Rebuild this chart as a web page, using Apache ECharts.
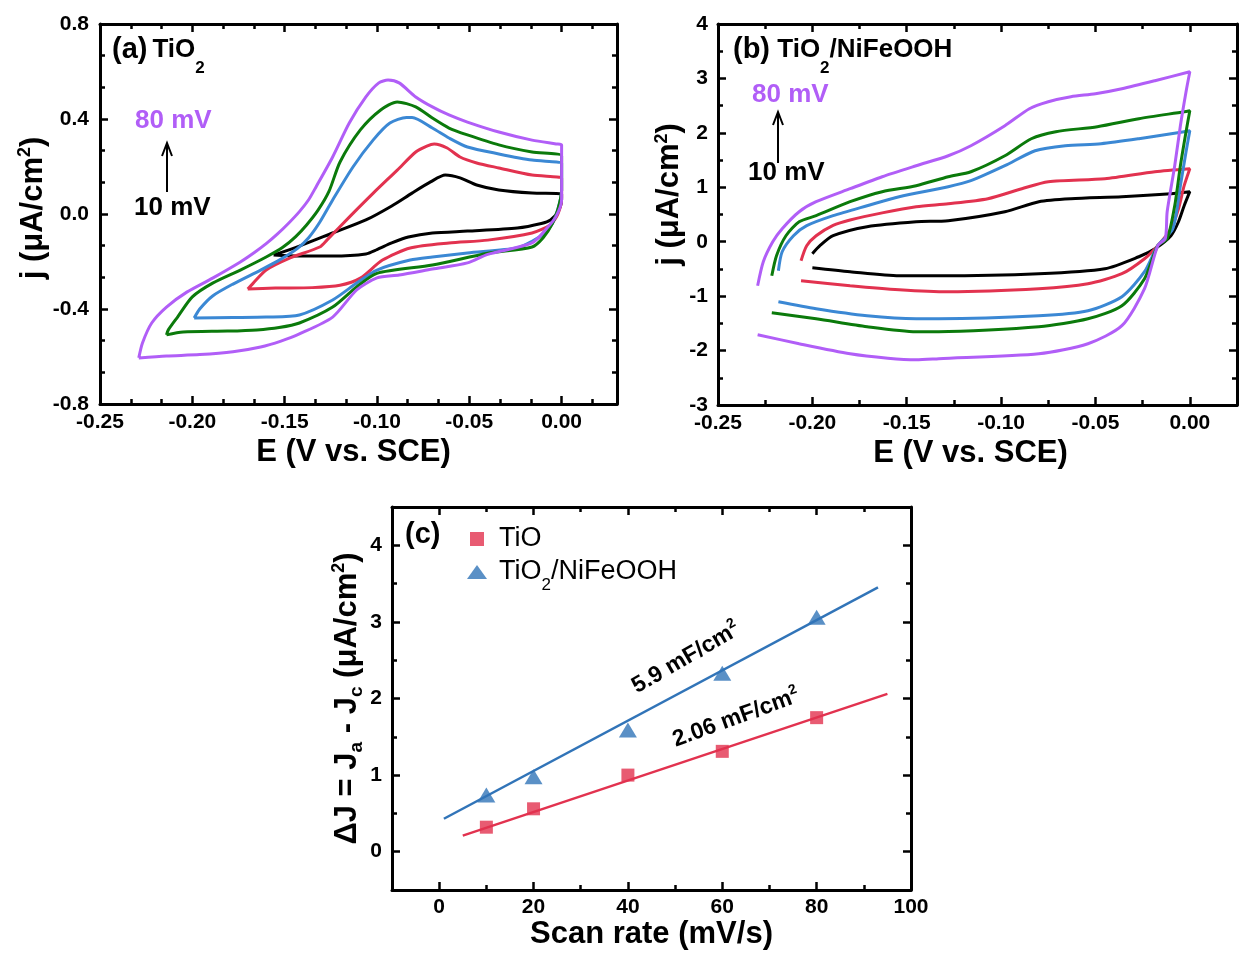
<!DOCTYPE html>
<html>
<head>
<meta charset="utf-8">
<script src="https://cdn.jsdelivr.net/npm/echarts@6/dist/echarts.min.js"></script>
<style>
  html, body { margin: 0; padding: 0; background: #fff; }
  #chart { width: 1244px; height: 953px; }
</style>
</head>
<body>
<div id="chart"></div>
<script>
// ---------- (a) TiO2: cyclic voltammograms, [E (V vs. SCE), j (uA/cm2)] ----------
const cvA_10 = [[-0.156,-0.173],[-0.142,-0.135],[-0.124,-0.080],[-0.106,-0.025],[-0.092,0.034],[-0.081,0.088],[-0.071,0.135],[-0.063,0.164],[-0.055,0.152],[-0.046,0.122],[-0.034,0.101],[-0.016,0.088],[0.000,0.084],
  [0.000,0.060],[-0.002,0.010],[-0.006,-0.025],[-0.011,-0.040],[-0.024,-0.059],[-0.051,-0.072],[-0.070,-0.080],[-0.083,-0.097],[-0.092,-0.122],[-0.100,-0.150],[-0.106,-0.168],[-0.124,-0.177],[-0.142,-0.177],[-0.156,-0.173]];
const cvA_20 = [[-0.170,-0.316],[-0.167,-0.291],[-0.160,-0.236],[-0.147,-0.185],[-0.131,-0.139],[-0.127,-0.109],[-0.115,-0.013],[-0.102,0.088],[-0.089,0.185],[-0.079,0.261],[-0.073,0.286],[-0.069,0.295],[-0.062,0.278],[-0.055,0.240],[-0.046,0.215],[-0.034,0.194],[-0.016,0.164],[0.000,0.152],
  [0.000,0.140],[0.000,0.070],[-0.002,0.000],[-0.006,-0.045],[-0.016,-0.080],[-0.040,-0.110],[-0.061,-0.122],[-0.082,-0.143],[-0.097,-0.194],[-0.109,-0.270],[-0.120,-0.300],[-0.135,-0.310],[-0.155,-0.312],[-0.170,-0.316]];
const cvA_40 = [[-0.199,-0.438],[-0.196,-0.400],[-0.189,-0.345],[-0.178,-0.295],[-0.163,-0.236],[-0.152,-0.190],[-0.143,-0.145],[-0.137,-0.100],[-0.131,-0.035],[-0.124,0.059],[-0.113,0.198],[-0.102,0.312],[-0.093,0.383],[-0.084,0.406],[-0.081,0.406],[-0.070,0.362],[-0.061,0.320],[-0.051,0.282],[-0.034,0.253],[-0.016,0.227],[0.000,0.215],
  [0.000,0.200],[0.000,0.100],[-0.002,0.020],[-0.005,-0.040],[-0.009,-0.080],[-0.016,-0.115],[-0.024,-0.143],[-0.051,-0.164],[-0.070,-0.181],[-0.082,-0.194],[-0.100,-0.236],[-0.111,-0.291],[-0.124,-0.362],[-0.142,-0.425],[-0.160,-0.434],[-0.178,-0.436],[-0.199,-0.438]];
const cvA_60 = [[-0.214,-0.509],[-0.213,-0.488],[-0.208,-0.434],[-0.200,-0.349],[-0.189,-0.291],[-0.174,-0.236],[-0.160,-0.181],[-0.151,-0.140],[-0.144,-0.095],[-0.138,-0.045],[-0.132,0.015],[-0.126,0.095],[-0.120,0.219],[-0.109,0.354],[-0.098,0.438],[-0.089,0.472],[-0.079,0.451],[-0.070,0.404],[-0.061,0.362],[-0.051,0.333],[-0.034,0.291],[-0.016,0.261],[0.000,0.245],
  [0.000,0.200],[0.000,0.100],[-0.002,0.020],[-0.005,-0.040],[-0.010,-0.100],[-0.016,-0.139],[-0.040,-0.165],[-0.070,-0.215],[-0.100,-0.250],[-0.111,-0.307],[-0.124,-0.392],[-0.142,-0.459],[-0.153,-0.478],[-0.165,-0.488],[-0.181,-0.493],[-0.205,-0.497],[-0.214,-0.509]];
const cvA_80 = [[-0.229,-0.606],[-0.227,-0.543],[-0.222,-0.459],[-0.214,-0.392],[-0.203,-0.329],[-0.189,-0.270],[-0.174,-0.202],[-0.166,-0.160],[-0.160,-0.125],[-0.154,-0.085],[-0.148,-0.040],[-0.142,0.010],[-0.137,0.060],[-0.133,0.114],[-0.124,0.240],[-0.115,0.383],[-0.106,0.493],[-0.099,0.552],[-0.094,0.564],[-0.088,0.552],[-0.079,0.493],[-0.070,0.451],[-0.061,0.417],[-0.051,0.387],[-0.034,0.345],[-0.016,0.311],[-0.003,0.295],[0.000,0.291],
  [0.000,0.200],[0.000,0.060],[-0.003,-0.010],[-0.008,-0.060],[-0.016,-0.122],[-0.040,-0.170],[-0.051,-0.206],[-0.070,-0.232],[-0.088,-0.257],[-0.100,-0.269],[-0.111,-0.320],[-0.124,-0.434],[-0.142,-0.505],[-0.152,-0.535],[-0.163,-0.560],[-0.178,-0.580],[-0.196,-0.592],[-0.214,-0.598],[-0.229,-0.606]];

// ---------- (b) TiO2/NiFeOOH: cyclic voltammograms ----------
const cvB_10 = [[-0.200,-0.220],[-0.196,-0.073],[-0.189,0.110],[-0.171,0.276],[-0.145,0.367],[-0.128,0.386],[-0.098,0.551],[-0.080,0.735],[-0.063,0.790],[-0.036,0.827],[-0.010,0.882],[0.000,0.919],
  [-0.003,0.661],[-0.006,0.367],[-0.010,0.110],[-0.0185,-0.129],[-0.027,-0.276],[-0.045,-0.496],[-0.080,-0.588],[-0.133,-0.625],[-0.154,-0.625],[-0.180,-0.551],[-0.200,-0.478]];
const cvB_20 = [[-0.206,-0.349],[-0.203,-0.073],[-0.198,0.110],[-0.189,0.300],[-0.180,0.400],[-0.163,0.530],[-0.145,0.643],[-0.128,0.698],[-0.107,0.790],[-0.089,0.974],[-0.075,1.102],[-0.045,1.157],[-0.0185,1.286],[0.000,1.341],
  [-0.003,1.029],[-0.006,0.606],[-0.010,0.239],[-0.017,-0.073],[-0.024,-0.312],[-0.036,-0.588],[-0.054,-0.772],[-0.080,-0.863],[-0.128,-0.919],[-0.154,-0.882],[-0.180,-0.808],[-0.206,-0.717]];
const cvB_40 = [[-0.218,-0.533],[-0.216,-0.184],[-0.210,0.110],[-0.203,0.294],[-0.189,0.478],[-0.171,0.661],[-0.154,0.827],[-0.128,1.010],[-0.116,1.121],[-0.098,1.396],[-0.082,1.672],[-0.066,1.764],[-0.047,1.800],[-0.027,1.892],[-0.003,2.021],[0.000,2.039],
  [-0.002,1.653],[-0.005,1.029],[-0.009,0.239],[-0.017,-0.073],[-0.024,-0.551],[-0.036,-1.010],[-0.054,-1.268],[-0.080,-1.360],[-0.133,-1.415],[-0.145,-1.415],[-0.171,-1.360],[-0.198,-1.231],[-0.218,-1.102]];
const cvB_60 = [[-0.2215,-0.625],[-0.219,-0.257],[-0.214,0.110],[-0.207,0.367],[-0.198,0.478],[-0.180,0.735],[-0.163,0.919],[-0.145,1.029],[-0.128,1.194],[-0.116,1.286],[-0.098,1.580],[-0.084,1.892],[-0.071,2.021],[-0.049,2.113],[-0.027,2.260],[-0.003,2.388],[0.000,2.407],
  [-0.002,2.021],[-0.005,1.396],[-0.008,0.661],[-0.012,0.055],[-0.017,-0.073],[-0.024,-0.680],[-0.036,-1.176],[-0.054,-1.415],[-0.080,-1.562],[-0.133,-1.654],[-0.145,-1.654],[-0.171,-1.562],[-0.198,-1.415],[-0.2215,-1.304]];
const cvB_80 = [[-0.229,-0.808],[-0.226,-0.367],[-0.221,0.000],[-0.216,0.239],[-0.207,0.551],[-0.198,0.735],[-0.180,0.974],[-0.163,1.194],[-0.145,1.396],[-0.128,1.580],[-0.116,1.764],[-0.098,2.131],[-0.085,2.444],[-0.075,2.572],[-0.063,2.664],[-0.050,2.719],[-0.036,2.811],[-0.0185,2.958],[0.000,3.123],
  [-0.002,2.756],[-0.005,2.131],[-0.008,1.396],[-0.012,0.551],[-0.013,0.055],[-0.017,-0.073],[-0.024,-0.863],[-0.036,-1.543],[-0.054,-1.874],[-0.080,-2.058],[-0.133,-2.150],[-0.145,-2.170],[-0.160,-2.140],[-0.180,-2.058],[-0.207,-1.874],[-0.229,-1.709]];

// ---------- (c) double-layer charging: Delta J vs scan rate ----------
const scanRates = [10, 20, 40, 60, 80];
const dJ_TiO = [0.32, 0.56, 1.00, 1.31, 1.75];
const dJ_NiFe = [0.74, 0.98, 1.59, 2.33, 3.06];
const fit_TiO = [[5, 0.21], [95, 2.06]];
const fit_NiFe = [[1, 0.43], [93, 3.45]];

// ---------- tick labels ----------
const ticksA_x = [-0.25, -0.20, -0.15, -0.10, -0.05, 0.00];
const ticksA_y = [-0.8, -0.4, 0.0, 0.4, 0.8];
const ticksB_x = [-0.25, -0.20, -0.15, -0.10, -0.05, 0.00];
const ticksB_y = [-3, -2, -1, 0, 1, 2, 3, 4];
const ticksC_x = [0, 20, 40, 60, 80, 100];
const ticksC_y = [0, 1, 2, 3, 4];

const FONT = '"Liberation Sans", Arial, sans-serif';
const COLORS = { k: '#000000', r: '#e2324f', b: '#3b88d4', g: '#0b7a0b', p: '#b15ef7' };
const FIT_BLUE = '#3174b8';

// minor ticks: split every major interval into `parts`, extending past the ends while inside [min, max]
function minorTicks(majors, parts, min, max) {
  const step = (majors[1] - majors[0]) / parts;
  const out = [];
  for (let v = majors[0] - step; v > min + 1e-9; v -= step) out.push(v);
  for (let i = 0; i < majors.length - 1; i++)
    for (let k = 1; k < parts; k++) out.push(majors[i] + k * step);
  for (let v = majors[majors.length - 1] + step; v < max - 1e-9; v += step) out.push(v);
  return out;
}

// four axes per dimension: labelled major side, minor side, mirrored major, mirrored minor
function axisSet(dim, gridIndex, spec) {
  const sides = dim === 'x' ? ['bottom', 'top'] : ['left', 'right'];
  const minors = minorTicks(spec.majors, spec.parts, spec.min, spec.max);
  const list = [];
  sides.forEach((pos, s) => {
    [true, false].forEach(isMajor => {
      const main = s === 0 && isMajor;
      list.push({
        type: 'value', gridIndex, position: pos, min: spec.min, max: spec.max,
        name: main ? spec.name : '',
        nameLocation: 'middle', nameGap: spec.nameGap,
        nameTextStyle: main ? Object.assign({
          fontFamily: FONT, fontSize: spec.nameSize || 31, fontWeight: 'bold', color: '#000'
        }, spec.nameStyle || {}) : undefined,
        axisLine: { show: isMajor, onZero: false, lineStyle: { color: '#000', width: 3 } },
        axisTick: { show: true, inside: true, length: isMajor ? 8 : 5,
          customValues: isMajor ? spec.majors : minors,
          lineStyle: { color: '#000', width: 2.5 } },
        axisLabel: { show: main, customValues: spec.majors, formatter: spec.fmt,
          fontFamily: FONT, fontSize: 21, fontWeight: 'bold', color: '#000', margin: spec.margin },
        splitLine: { show: false }
      });
    });
  });
  return list;
}

const supRich = { sup: { fontFamily: FONT, fontSize: 18, fontWeight: 'bold', color: '#000', padding: [0, 0, 16, 0] } };

const xAxes = [].concat(
  axisSet('x', 0, { min: -0.25, max: 0.03, majors: ticksA_x, parts: 3, fmt: v => v.toFixed(2), margin: 8,
    name: 'E (V vs. SCE)', nameGap: 33, nameStyle: { padding: [0, 10, 0, 0] } }),
  axisSet('x', 1, { min: -0.25, max: 0.025, majors: ticksB_x, parts: 2, fmt: v => v.toFixed(2), margin: 8,
    name: 'E (V vs. SCE)', nameGap: 33, nameStyle: { padding: [0, 14, 0, 0] } }),
  axisSet('x', 2, { min: -10, max: 100, majors: ticksC_x, parts: 2, fmt: v => String(v), margin: 7,
    name: 'Scan rate (mV/s)', nameGap: 26 })
);
const yAxes = [].concat(
  axisSet('y', 0, { min: -0.8, max: 0.8, majors: ticksA_y, parts: 3, fmt: v => v.toFixed(1), margin: 11,
    name: 'j (\u03bcA/cm{sup|2})', nameGap: 46, nameStyle: { rich: supRich, padding: [0, 0, 0, 12] } }),
  axisSet('y', 1, { min: -3, max: 4, majors: ticksB_y, parts: 2, fmt: v => String(v), margin: 10,
    name: 'j (\u03bcA/cm{sup|2})', nameGap: 30, nameStyle: { rich: supRich, padding: [0, 0, 0, 40] } }),
  axisSet('y', 2, { min: -0.5, max: 4.5, majors: ticksC_y, parts: 2, fmt: v => String(v), margin: 10,
    name: '\u0394J = J{sub|a} - J{sub|c} (\u03bcA/cm{sup|2})', nameGap: 26,
    nameStyle: { rich: Object.assign({
      sub: { fontFamily: FONT, fontSize: 19, fontWeight: 'bold', color: '#000', padding: [18, 0, 0, 0] }
    }, supRich) } })
);

function cvSeries(panel, data, color) {
  return {
    type: 'line', xAxisIndex: panel * 4, yAxisIndex: panel * 4, data,
    showSymbol: false, symbol: 'none', smooth: 0.25, silent: true,
    lineStyle: { color, width: 3 }
  };
}

const series = [
  cvSeries(0, cvA_10, COLORS.k), cvSeries(0, cvA_20, COLORS.r), cvSeries(0, cvA_40, COLORS.b),
  cvSeries(0, cvA_60, COLORS.g), cvSeries(0, cvA_80, COLORS.p),
  cvSeries(1, cvB_10, COLORS.k), cvSeries(1, cvB_20, COLORS.r), cvSeries(1, cvB_40, COLORS.b),
  cvSeries(1, cvB_60, COLORS.g), cvSeries(1, cvB_80, COLORS.p),
  { type: 'line', xAxisIndex: 8, yAxisIndex: 8, data: fit_TiO, showSymbol: false, symbol: 'none',
    lineStyle: { color: COLORS.r, width: 2.5 } },
  { type: 'line', xAxisIndex: 8, yAxisIndex: 8, data: fit_NiFe, showSymbol: false, symbol: 'none',
    lineStyle: { color: FIT_BLUE, width: 2.5 } },
  { name: 'TiO', type: 'scatter', xAxisIndex: 8, yAxisIndex: 8, symbol: 'rect', symbolSize: 13,
    data: scanRates.map((s, i) => [s, dJ_TiO[i]]), itemStyle: { color: COLORS.r } },
  { name: 'TiO2/NiFeOOH', type: 'scatter', xAxisIndex: 8, yAxisIndex: 8, symbol: 'triangle', symbolSize: [18, 15],
    data: scanRates.map((s, i) => [s, dJ_NiFe[i]]), itemStyle: { color: FIT_BLUE } }
];

function label(x, y, text, size, color, rich, extra) {
  return Object.assign({
    type: 'text', x, y, silent: true,
    style: { text, fill: color, fontFamily: FONT, fontSize: size, fontWeight: 'bold',
      align: 'left', verticalAlign: 'middle', rich: rich || {} }
  }, extra || {});
}
const titleRich = {
  p: { fontFamily: FONT, fontSize: 29, fontWeight: 'bold', fill: '#000' },
  t: { fontFamily: FONT, fontSize: 26, fontWeight: 'bold', fill: '#000', padding: [0, 0, 0, 5] },
  s: { fontFamily: FONT, fontSize: 17, fontWeight: 'bold', fill: '#000', padding: [36, 0, 0, 0] }
};
const supR = { sup: { fontFamily: FONT, fontSize: 14, fontWeight: 'bold', fill: '#000', padding: [0, 0, 14, 0] } };

function arrow(x, yBottom, yTip) {
  return [
    { type: 'line', silent: true, shape: { x1: x, y1: yBottom, x2: x, y2: yTip + 2 },
      style: { stroke: '#000', lineWidth: 2 } },
    { type: 'polyline', silent: true, shape: { points: [[x - 5, yTip + 13], [x, yTip], [x + 5, yTip + 13]] },
      style: { stroke: '#000', lineWidth: 2, fill: null } }
  ];
}

const rateLabel1 = label(0, 0, '5.9 mF/cm{sup|2}', 23, '#000', supR,
  { x: 686, y: 658, rotation: 30 * Math.PI / 180 });
const rateLabel2 = label(0, 0, '2.06 mF/cm{sup|2}', 23, '#000', supR,
  { x: 736, y: 718, rotation: 20 * Math.PI / 180 });
rateLabel1.style.align = 'center';
rateLabel2.style.align = 'center';

const graphic = [
  label(112, 50, '{p|(a)}{t|TiO}{s|2}', 26, '#000', titleRich),
  label(135, 121, '80 mV', 26, COLORS.p),
  label(134, 208, '10 mV', 26, '#000'),
  ...arrow(167, 192, 143),
  label(733, 50, '{p|(b)}{t| TiO}{s|2}{t|/NiFeOOH}', 26, '#000', {
    p: titleRich.p, s: titleRich.s, t: { fontFamily: FONT, fontSize: 26, fontWeight: 'bold', fill: '#000' } }),
  label(752, 95, '80 mV', 26, COLORS.p),
  label(748, 173, '10 mV', 26, '#000'),
  ...arrow(778, 163, 112),
  label(405, 535, '(c)', 29, '#000'),
  rateLabel1,
  rateLabel2
];

const option = {
  backgroundColor: '#fff',
  animation: false,
  grid: [
    { left: 100, top: 24, width: 517, height: 380 },
    { left: 718, top: 24, width: 519, height: 381 },
    { left: 392, top: 507, width: 519, height: 383 }
  ],
  xAxis: xAxes,
  yAxis: yAxes,
  legend: {
    left: 462, top: 519, orient: 'vertical', itemGap: 3, itemWidth: 20, itemHeight: 14,
    data: [{ name: 'TiO', icon: 'path://M0 0H10V10H0Z' }, { name: 'TiO2/NiFeOOH', icon: 'triangle' }],
    formatter: n => n === 'TiO2/NiFeOOH' ? 'TiO{sub|2}/NiFeOOH' : n,
    textStyle: { fontFamily: FONT, fontSize: 27, color: '#000', lineHeight: 30, padding: [0, 0, 0, 7],
      rich: { sub: { fontFamily: FONT, fontSize: 17, color: '#000', padding: [26, 0, 0, 0] } } }
  },
  graphic,
  series
};

const chart = echarts.init(document.getElementById('chart'), null, { renderer: 'canvas' });
chart.setOption(option);
</script>
</body>
</html>
